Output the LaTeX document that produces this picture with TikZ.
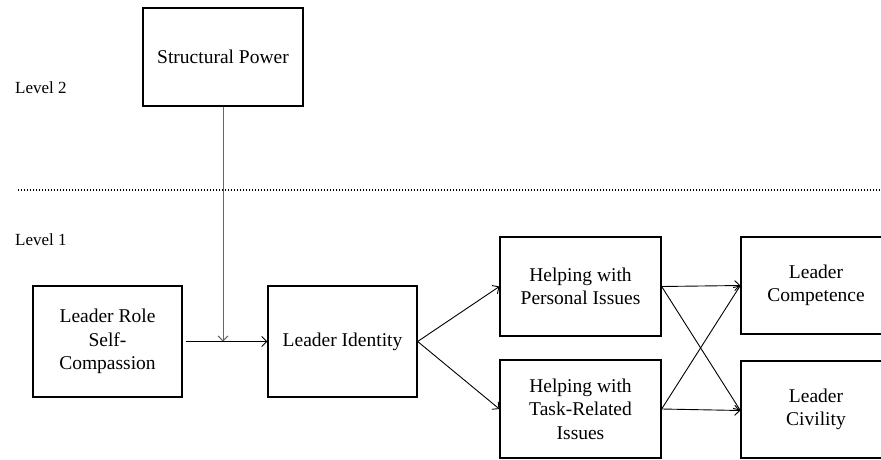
\documentclass[tikz,border=0pt]{standalone}
\usepackage{fontspec}
\setmainfont{Liberation Serif}
\usetikzlibrary{arrows.meta}
\begin{document}
\begin{tikzpicture}[x=1pt,y=-1pt,
  box/.style={draw,line width=1.3pt,align=center,inner sep=0pt,
    font=\fontsize{19.5}{23.5}\selectfont},
  lvl/.style={anchor=west,inner sep=0pt,font=\fontsize{17}{20}\selectfont},
  conn/.style={line width=0.9pt,-{Straight Barb[length=5pt,width=10pt]}},
]
\useasboundingbox (0,0) rectangle (881,460);
\clip (0,0) rectangle (881,460);
\node[box,minimum width=160pt,minimum height=98pt] (sp) at (223,57) {Structural Power};
\node[lvl] (l2) at (15,88) {Level 2};
\node[lvl] (l1) at (15,240) {Level 1};
\coordinate (dl) at (18,190);
\coordinate (dr) at (881,190);
\draw[line width=1.3pt,dash pattern=on 1.3pt off 1.7pt] (dl) -- (dr);
\node[box,minimum width=149pt,minimum height=111pt] (lr) at (107.5,341.5) {Leader Role\\Self-\\Compassion};
\node[box,minimum width=149pt,minimum height=111pt] (li) at (342.5,341.5) {Leader Identity};
\node[box,minimum width=161pt,minimum height=99pt] (hp) at (580.5,286.5) {Helping with\\Personal Issues};
\node[box,minimum width=161pt,minimum height=98pt] (ht) at (580.5,409) {Helping with\\Task-Related\\Issues};
\node[box,minimum width=150pt,minimum height=97pt] (lc) at (816,285.5) {Leader\\Competence};
\node[box,minimum width=150pt,minimum height=97pt] (lv) at (816,409.5) {Leader\\Civility};
\coordinate (m) at (sp.south |- lr.east);
\draw[conn,black!60] (sp.south) -- (m);
\draw[conn,shorten <=3pt] (lr.east) -- (li.west);
\draw[conn] (li.east) -- (hp.west);
\draw[conn] (li.east) -- (ht.west);
\draw[conn] (hp.east) -- (lc.west);
\draw[conn] (hp.east) -- ([yshift=-1pt]lv.west);
\draw[conn] (ht.east) -- (lc.west);
\draw[conn] (ht.east) -- ([yshift=-1pt]lv.west);
\end{tikzpicture}
\end{document}
